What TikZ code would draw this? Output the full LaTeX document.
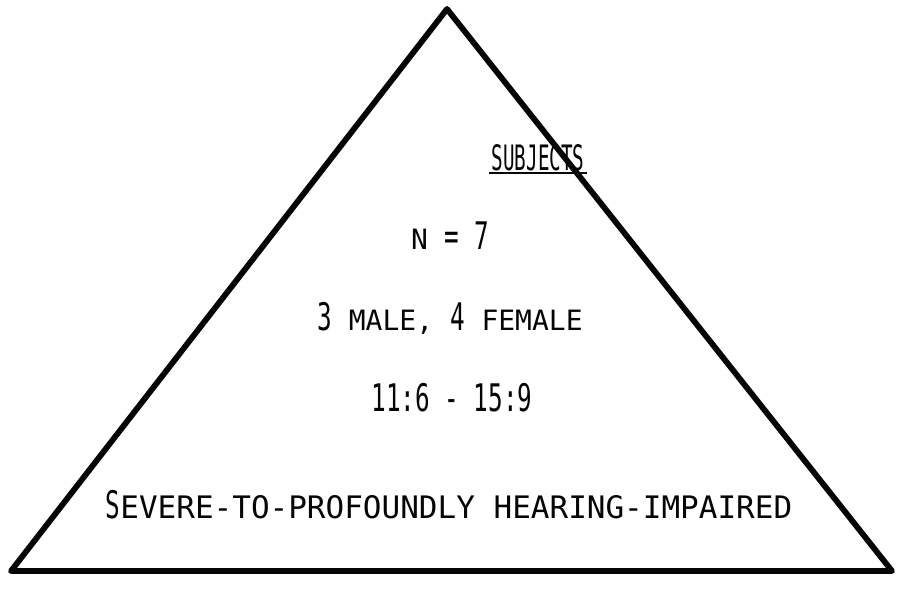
\documentclass[tikz,border=0pt]{standalone}
\usepackage{fontspec}
\setmainfont{DejaVu Sans Mono}
\newfontfamily\narrowtype[FakeStretch=0.64]{DejaVu Sans Mono}
\newfontfamily\titletype[FakeStretch=0.55]{DejaVu Sans Mono}
\newfontfamily\widetype{DejaVu Sans Mono}
\newcommand\bigtype{\narrowtype\fontsize{38}{40}\selectfont}
\newcommand\smalltype{\widetype\fontsize{28}{30}\selectfont}
\newcommand\widesmalltype{\widetype\fontsize{31}{33}\selectfont}
\definecolor{inkline}{HTML}{050505}
\tikzset{
  edge/.style={draw=inkline, line width=5.8pt, line join=round, line cap=round},
  label/.style={inner sep=0pt, anchor=base, text=inkline},
  underline/.style={draw=inkline, line width=1.8pt}
}

\begin{document}
\begin{tikzpicture}[x=1pt, y=-1pt]
\useasboundingbox (0,0) rectangle (903,590);

% Triangle.
\coordinate (apex) at (447,9);
\coordinate (left) at (11,571);
\coordinate (right) at (892,571);
\draw[edge] (apex) -- (left) -- (right) -- cycle;

% Title.
\node[label, font=\titletype\fontsize{35}{37}\selectfont] (subjects) at (538,170) {SUBJECTS};
\draw[underline] ([xshift=-2pt, yshift=-3pt]subjects.base west) -- ([xshift=2pt, yshift=-3pt]subjects.base east);

% Facts.
\node[label] (count) at (450,249) {{\smalltype N }{\bigtype= 7}};
\node[label] (sexes) at (450,330) {{\bigtype 3}{\smalltype\ MALE, }{\bigtype 4}{\smalltype\ FEMALE}};
\node[label, font=\bigtype] (ages) at (452,411) {11:6 - 15:9};
\node[label] (hearing) at (449,518) {{\bigtype S}{\widesmalltype EVERE-TO-PROFOUNDLY HEARING-IMPAIRED}};

\end{tikzpicture}
\end{document}
